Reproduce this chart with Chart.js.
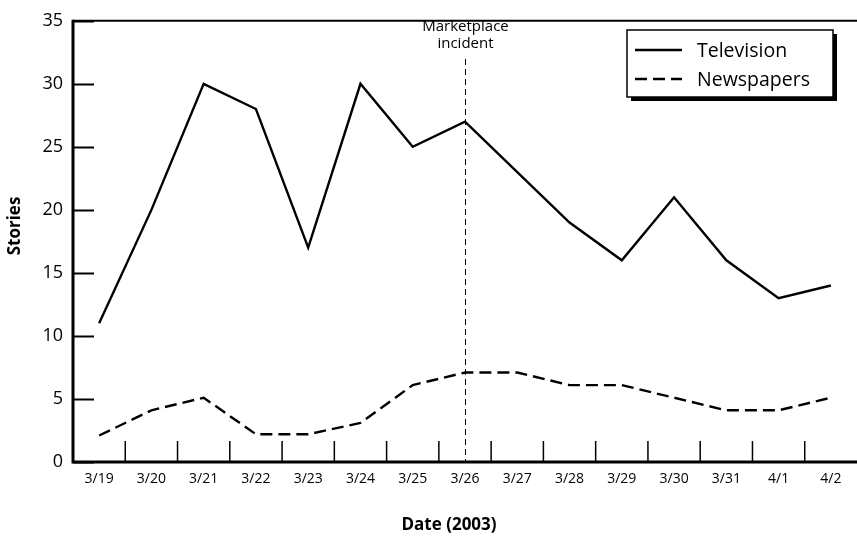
<!DOCTYPE html>
<html>
<head>
<meta charset="utf-8">
<script src="https://cdn.jsdelivr.net/npm/chart.js@4/dist/chart.umd.min.js"></script>
<style>
  html, body { margin: 0; padding: 0; background: #fff; }
  #wrap { width: 857px; height: 539px; position: relative; }
</style>
</head>
<body>
<div id="wrap"><canvas id="storiesChart"></canvas></div>
<script>
// values
var dates = ['3/19', '3/20', '3/21', '3/22', '3/23', '3/24', '3/25', '3/26', '3/27', '3/28', '3/29', '3/30', '3/31', '4/1', '4/2'];
var television = [11, 20, 30, 28, 17, 30, 25, 27, 23, 19, 16, 21, 16, 13, 14];
var newspapers = [2.1, 4.1, 5.1, 2.2, 2.2, 3.1, 6.1, 7.1, 7.1, 6.1, 6.1, 5.1, 4.1, 4.1, 5.1];
var yTicks = [0, 5, 10, 15, 20, 25, 30, 35];
var eventDate = '3/26';
var eventLabel = ['Marketplace', 'incident'];
var xTitle = 'Date (2003)';
var yTitle = 'Stories';

var FONT = "'Open Sans', 'Noto Sans', sans-serif";

// axes, inner tick marks, axis titles, the event line and the boxed legend
var decor = {
    id: 'decor',
    beforeDatasetsDraw: function (chart) {
        var ctx = chart.ctx, a = chart.chartArea;
        var x = chart.scales.x, y = chart.scales.y;
        ctx.save();
        ctx.strokeStyle = '#000';

        // y tick marks pointing into the plot
        ctx.lineWidth = 2;
        yTicks.forEach(function (v) {
            var py = Math.round(y.getPixelForValue(v)) + 0.5;
            ctx.beginPath();
            ctx.moveTo(a.left, py);
            ctx.lineTo(a.left + 21, py);
            ctx.stroke();
        });

        // x tick marks between the dates, pointing up
        ctx.lineWidth = 1.5;
        for (var i = 0; i < dates.length - 1; i++) {
            var px = (x.getPixelForValue(i) + x.getPixelForValue(i + 1)) / 2;
            ctx.beginPath();
            ctx.moveTo(px, a.bottom);
            ctx.lineTo(px, a.bottom - 21);
            ctx.stroke();
        }

        // top rule
        ctx.lineWidth = 2;
        ctx.beginPath();
        ctx.moveTo(a.left, a.top);
        ctx.lineTo(a.right, a.top);
        ctx.stroke();

        // axis lines
        ctx.lineWidth = 3;
        ctx.beginPath();
        ctx.moveTo(a.left, a.top - 1);
        ctx.lineTo(a.left, a.bottom + 1.5);
        ctx.moveTo(a.left - 1.5, a.bottom);
        ctx.lineTo(a.right, a.bottom);
        ctx.stroke();

        // axis titles
        ctx.fillStyle = '#000';
        ctx.font = 'bold 17px ' + FONT;
        ctx.textAlign = 'center';
        ctx.textBaseline = 'middle';
        ctx.fillText(xTitle, 449, 525);
        ctx.save();
        ctx.translate(15, 226);
        ctx.rotate(-Math.PI / 2);
        ctx.fillText(yTitle, 0, 0);
        ctx.restore();

        // marketplace incident line
        var ex = Math.round(x.getPixelForValue(dates.indexOf(eventDate))) + 0.5;
        ctx.lineWidth = 1;
        ctx.setLineDash([6, 4]);
        ctx.beginPath();
        ctx.moveTo(ex, 59);
        ctx.lineTo(ex, a.bottom);
        ctx.stroke();
        ctx.setLineDash([]);
        ctx.font = '15px ' + FONT;
        ctx.fillText(eventLabel[0], ex, 27);
        ctx.fillText(eventLabel[1], ex, 44);
        ctx.restore();
    },
    afterDraw: function (chart) {
        var ctx = chart.ctx;
        var bx = 627, by = 30, bw = 206, bh = 67;
        ctx.save();
        ctx.fillStyle = '#000';
        ctx.fillRect(bx + 4, by + 4, bw, bh);
        ctx.fillStyle = '#fff';
        ctx.fillRect(bx, by, bw, bh);
        ctx.strokeStyle = '#000';
        ctx.lineWidth = 1.5;
        ctx.strokeRect(bx, by, bw, bh);

        chart.data.datasets.forEach(function (ds, i) {
            var ly = by + 20 + i * 29;
            ctx.lineWidth = ds.borderWidth;
            ctx.setLineDash(ds.borderDash || []);
            ctx.beginPath();
            ctx.moveTo(bx + 8, ly);
            ctx.lineTo(bx + 55, ly);
            ctx.stroke();
            ctx.setLineDash([]);
            ctx.fillStyle = '#000';
            ctx.font = '19.5px ' + FONT;
            ctx.textAlign = 'left';
            ctx.textBaseline = 'middle';
            ctx.fillText(ds.label, bx + 70, ly + 1);
        });
        ctx.restore();
    }
};

var chart = new Chart(document.getElementById('storiesChart').getContext('2d'), {
    type: 'line',
    data: {
        labels: dates,
        datasets: [{
            label: 'Television',
            data: television,
            borderColor: '#000',
            borderWidth: 2.4,
            pointRadius: 0,
            tension: 0,
            fill: false
        }, {
            label: 'Newspapers',
            data: newspapers,
            borderColor: '#000',
            borderWidth: 2.4,
            borderDash: [12, 6],
            pointRadius: 0,
            tension: 0,
            fill: false
        }]
    },
    options: {
        responsive: true,
        maintainAspectRatio: false,
        animation: false,
        layout: { padding: { top: 12, right: 0, bottom: 0, left: 0 } },
        plugins: {
            legend: { display: false },
            tooltip: { enabled: false }
        },
        scales: {
            x: {
                offset: true,
                grid: { display: false, drawTicks: false },
                border: { display: false },
                ticks: {
                    color: '#000',
                    padding: 9,
                    maxRotation: 0,
                    autoSkip: false,
                    font: { family: FONT, size: 14 }
                },
                afterFit: function (scale) { scale.height = 77; }
            },
            y: {
                min: 0,
                max: 35,
                grid: { display: false, drawTicks: false },
                border: { display: false },
                ticks: {
                    stepSize: 5,
                    color: '#000',
                    padding: 10,
                    font: { family: FONT, size: 18 }
                },
                afterFit: function (scale) { scale.width = 73; }
            }
        }
    },
    plugins: [decor]
});
</script>
</body>
</html>
